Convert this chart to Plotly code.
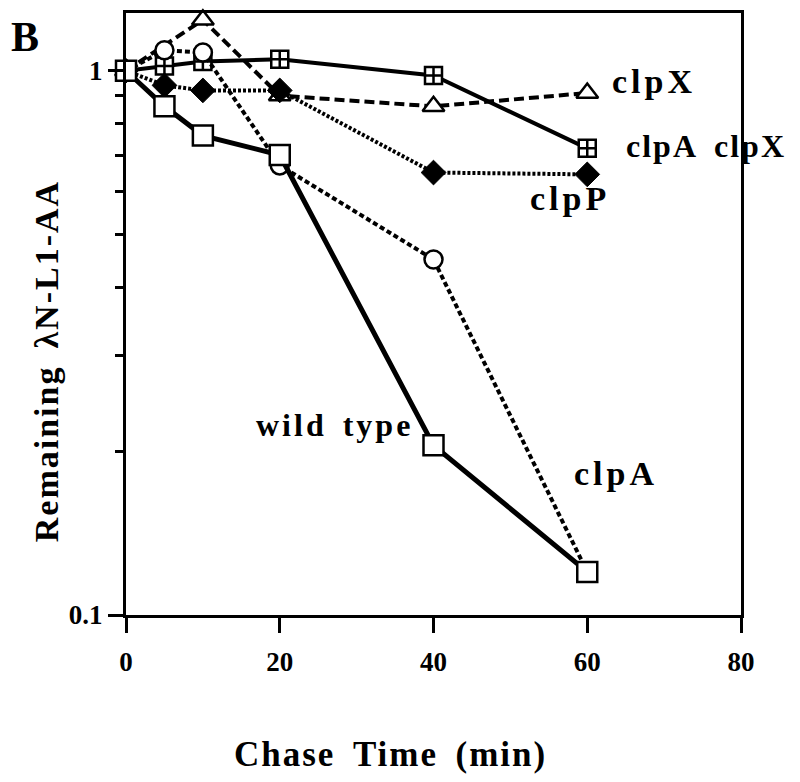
import math
import plotly.graph_objects as go

# ---- data ----
time_wt = [0, 5, 10, 20, 40, 60]
wild_type = [1.0, 0.86, 0.76, 0.70, 0.205, 0.12]

time_clpA = [0, 5, 10, 20, 40, 60]
clpA = [1.0, 1.09, 1.08, 0.67, 0.45, 0.12]

time_clpX = [0, 10, 20, 40, 60]
clpX = [1.0, 1.24, 0.90, 0.86, 0.91]

time_clpP = [0, 5, 10, 20, 40, 60]
clpP = [1.0, 0.94, 0.92, 0.92, 0.65, 0.645]

time_clpAX = [0, 5, 10, 20, 40, 60]
clpA_clpX = [1.0, 1.02, 1.04, 1.05, 0.98, 0.72]

x_ticks = [0, 20, 40, 60, 80]
y_major = [0.1, 1]
y_minor = [0.2, 0.3, 0.4, 0.5, 0.6, 0.7, 0.8, 0.9]

FONT = "Liberation Serif"
BLACK = "#000000"


def ls(txt, sp):
    return f'<span style="letter-spacing:{sp}px">{txt}</span>'


fig = go.Figure()

# clpA clpX : square with cross, solid line
fig.add_trace(go.Scatter(
    x=time_clpAX, y=clpA_clpX, mode="lines+markers", cliponaxis=False,
    line=dict(color=BLACK, width=4),
    marker=dict(symbol="square-cross", size=17, color="white",
                line=dict(color=BLACK, width=2.5))))

# clpX : open triangles, long dashes
fig.add_trace(go.Scatter(
    x=time_clpX, y=clpX, mode="lines+markers", cliponaxis=False,
    line=dict(color=BLACK, width=4, dash="10px,5px"),
    marker=dict(symbol="triangle-up", size=19, color="white",
                line=dict(color=BLACK, width=2.5))))

# clpP : filled diamonds, dotted line
fig.add_trace(go.Scatter(
    x=time_clpP, y=clpP, mode="lines+markers", cliponaxis=False,
    line=dict(color=BLACK, width=4, dash="3px,2px"),
    marker=dict(symbol="diamond", size=19, color=BLACK,
                line=dict(color=BLACK, width=1))))

# clpA : open circles, short dashes
fig.add_trace(go.Scatter(
    x=time_clpA, y=clpA, mode="lines+markers", cliponaxis=False,
    line=dict(color=BLACK, width=4, dash="5px,3px"),
    marker=dict(symbol="circle", size=18, color="white",
                line=dict(color=BLACK, width=2.5))))

# wild type : open squares, solid line
fig.add_trace(go.Scatter(
    x=time_wt, y=wild_type, mode="lines+markers", cliponaxis=False,
    line=dict(color=BLACK, width=5),
    marker=dict(symbol="square", size=20, color="white",
                line=dict(color=BLACK, width=2.5))))

# ---- layout ----
W, H = 800, 782
OFF = 8  # page body margin of the browser
L, R, T, B = 118, 67, 2, 175
pw, ph = W - L - R, H - T - B


def px(sx):
    return (sx - OFF - L) / pw


def py(sy):
    return (H - B - (sy - OFF)) / ph


y_top = 10 ** ((60 - T) / 547)

fig.update_layout(
    width=W, height=H,
    margin=dict(l=L, r=R, t=T, b=B, pad=0),
    paper_bgcolor="white", plot_bgcolor="white",
    showlegend=False,
    font=dict(family=FONT, color=BLACK, size=26, weight="bold"),
    xaxis=dict(
        range=[0, 80], tickvals=x_ticks, ticks="outside", ticklen=15,
        tickwidth=3, tickcolor=BLACK, showline=True, linewidth=3,
        linecolor=BLACK, mirror=True, showgrid=False, zeroline=False,
        tickfont=dict(family=FONT, size=27, weight="bold"),
        ticklabelstandoff=6,
    ),
    yaxis=dict(
        type="log", range=[-1, math.log10(y_top)],
        tickvals=y_major, ticktext=["0.1", "1"], ticks="outside",
        ticklen=15, tickwidth=3, tickcolor=BLACK,
        minor=dict(tickvals=y_minor, ticks="outside", ticklen=8,
                   tickwidth=3, tickcolor=BLACK, showgrid=False),
        showline=True, linewidth=3, linecolor=BLACK, mirror=True,
        showgrid=False, zeroline=False,
        tickfont=dict(family=FONT, size=27, weight="bold"),
    ),
)

ann_font = dict(family=FONT, size=34, color=BLACK, weight="bold")
labels = [
    (ls("clpX", 4), 610, 79),
    (ls("clpP", 4), 528, 196),
    (ls("clpA", 4), 572, 473),
]
for txt, sx, sy in labels:
    fig.add_annotation(text=txt, xref="paper", yref="paper", x=px(sx), y=py(sy),
                       xanchor="left", yanchor="middle", showarrow=False,
                       font=ann_font)

fig.add_annotation(text=ls("clpA", 2) + "&nbsp;&nbsp;" + ls("clpX", 2),
                   xref="paper", yref="paper", x=px(624), y=py(144),
                   xanchor="left", yanchor="middle", showarrow=False,
                   font=dict(family=FONT, size=32, color=BLACK, weight="bold"))

fig.add_annotation(text=ls("wild", 3) + "&nbsp;&nbsp;" + ls("type", 3),
                   xref="paper", yref="paper", x=px(254), y=py(424),
                   xanchor="left", yanchor="middle", showarrow=False,
                   font=dict(family=FONT, size=32, color=BLACK, weight="bold"))

fig.add_annotation(text="B", xref="paper", yref="paper", x=px(9), y=py(9),
                   xanchor="left", yanchor="top", showarrow=False,
                   font=dict(family=FONT, size=42, color=BLACK, weight="bold"))

fig.add_annotation(text=ls("Chase", 2) + "&nbsp;&nbsp;" + ls("Time", 2) + "&nbsp;&nbsp;" + ls("(min)", 2),
                   xref="paper", yref="paper", x=px(390), y=py(755),
                   xanchor="center", yanchor="middle", showarrow=False,
                   font=dict(family=FONT, size=35, color=BLACK, weight="bold"))

fig.add_annotation(text=ls("Remaining", 2) + "&nbsp;&nbsp;" + ls("λN-L1-AA", 2),
                   xref="paper", yref="paper", x=px(46), y=py(360),
                   xanchor="center", yanchor="middle", showarrow=False, textangle=-90,
                   font=dict(family=FONT, size=34, color=BLACK, weight="bold"))

fig.write_html("out.html")
